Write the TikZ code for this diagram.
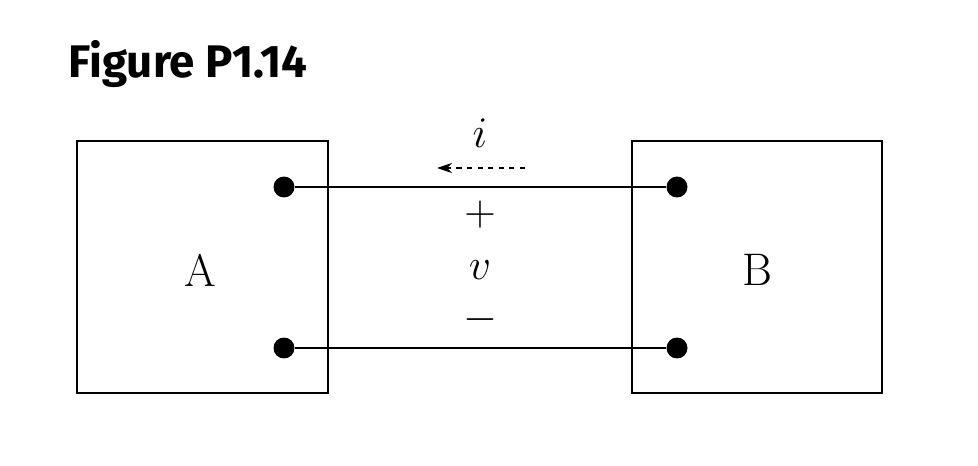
\documentclass[tikz,border=0pt]{standalone}
\usepackage{fontspec}
\newfontfamily\titlefont{Fira Sans}
\usetikzlibrary{arrows.meta}
\begin{document}
\begin{tikzpicture}[x=0.02cm,y=-0.02cm,
  box/.style={draw,line width=1.2pt},
  dot/.style={circle,fill,inner sep=0pt,minimum size=0.42cm},
  wire/.style={line width=1.4pt},
  lbl/.style={font=\fontsize{26}{30}\selectfont}]
\useasboundingbox (0,0) rectangle (978,466);
\node[anchor=west,font=\titlefont\bfseries\fontsize{26}{30}\selectfont,xscale=1.0,inner sep=0pt] (title) at (68,64) {Figure P1.14};
\draw[box] (77,141) rectangle (328,393);
\draw[box] (632,141) rectangle (882,393);
\node[lbl] (A) at (200,270) {A};
\node[lbl] (B) at (757,270) {B};
\node[dot] (a1) at (284,187) {};
\node[dot] (a2) at (284,348) {};
\node[dot] (b1) at (677,187) {};
\node[dot] (b2) at (677,348) {};
\draw[wire] (a1) -- (b1);
\draw[wire] (a2) -- (b2);
\coordinate (ie) at (525,168);
\coordinate (is) at (437,168);
\draw[dashed,line width=0.6pt,-{Stealth[length=0.3cm,width=0.2cm]}] (ie) -- (is);
\node[lbl] (i) at (480,133) {$i$};
\node[lbl] (p) at (480,215) {$+$};
\node[lbl] (v) at (480,270) {$v$};
\node[lbl] (m) at (480,320) {$-$};
\end{tikzpicture}
\end{document}
